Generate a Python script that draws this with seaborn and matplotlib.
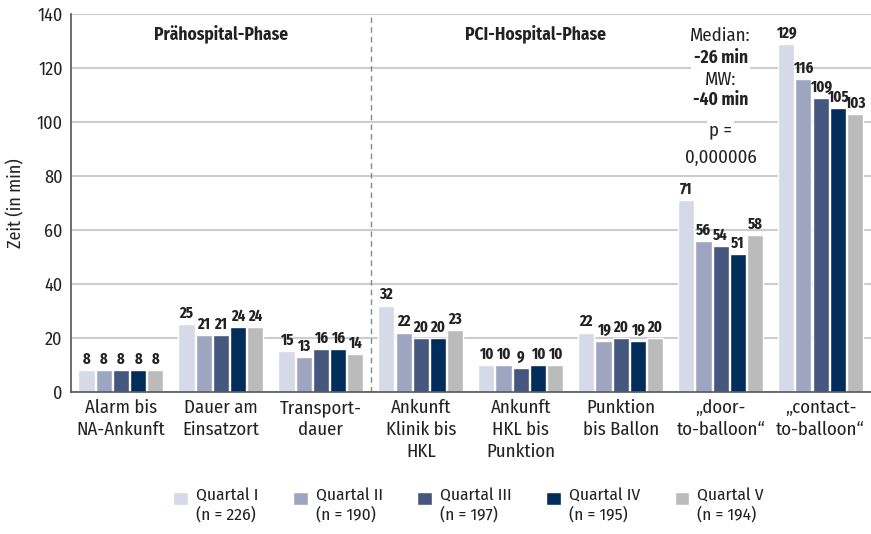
import matplotlib
matplotlib.use("Agg")
import matplotlib.pyplot as plt
import matplotlib.patches as mpatches
from matplotlib.legend_handler import HandlerPatch
import seaborn as sns
import pandas as pd
import numpy as np

categories = ["Alarm bis\nNA-Ankunft", "Dauer am\nEinsatzort", "Transport-\ndauer",
              "Ankunft\nKlinik bis\nHKL", "Ankunft\nHKL bis\nPunktion", "Punktion\nbis Ballon",
              "\u201edoor-\nto-balloon\u201c", "\u201econtact-\nto-balloon\u201c"]
series = ["Quartal I\n(n = 226)", "Quartal II\n(n = 190)", "Quartal III\n(n = 197)",
          "Quartal IV\n(n = 195)", "Quartal V\n(n = 194)"]
q1 = [8, 25, 15, 32, 10, 22, 71, 129]
q2 = [8, 21, 13, 22, 10, 19, 56, 116]
q3 = [8, 21, 16, 20, 9, 20, 54, 109]
q4 = [8, 24, 16, 20, 10, 19, 51, 105]
q5 = [8, 24, 14, 23, 10, 20, 58, 103]
colors = ["#d5d9e8", "#9ea5c0", "#45577e", "#002d5a", "#bbbbbb"]
yticks = [0, 20, 40, 60, 80, 100, 120, 140]

rows = []
for s, vals in zip(series, [q1, q2, q3, q4, q5]):
    for c, v in zip(categories, vals):
        rows.append({"Kategorie": c, "Quartal": s, "Zeit": v})
df = pd.DataFrame(rows)

sns.set_theme(style="white")
plt.rcParams["font.family"] = ["Fira Sans Condensed", "DejaVu Sans"]
TXT = "#222222"

fig = plt.figure(figsize=(8.71, 5.34), dpi=100)
ax = fig.add_axes([0.0815, 0.266, 0.918, 0.708])

sns.barplot(data=df, x="Kategorie", y="Zeit", hue="Quartal", palette=colors,
            order=categories, hue_order=series, width=0.86, gap=0.06,
            ax=ax, saturation=1, errorbar=None, legend=True)

for cont in ax.containers:
    ax.bar_label(cont, fmt="%d", padding=2, fontsize=11.5, fontweight="bold", color=TXT,
                 family=["Fira Sans Extra Condensed", "DejaVu Sans"])

ax.set_ylim(0, 140)
ax.set_xlim(-0.5, len(categories) - 0.5)
ax.set_yticks(yticks)
ax.yaxis.grid(True, color="#cdcdcd", linewidth=1.5)
ax.set_axisbelow(True)
ax.set_xlabel("")
ax.set_ylabel("Zeit (in min)", fontsize=13, color=TXT, labelpad=8)
ax.tick_params(axis="y", labelsize=13, colors=TXT, length=0, pad=6)
ax.tick_params(axis="x", labelsize=13.5, colors=TXT, length=0, pad=5)
for lbl in ax.get_xticklabels():
    lbl.set_linespacing(1.3)
ax.set_xticks(np.arange(len(categories) + 1) - 0.5, minor=True)
ax.tick_params(axis="x", which="minor", direction="in", length=6, color="#666666", width=1)
for sp in ["top", "right"]:
    ax.spines[sp].set_visible(False)
for sp in ["left", "bottom"]:
    ax.spines[sp].set_color("#555555")
    ax.spines[sp].set_linewidth(1.2)

ax.axvline(2.5, color="#888888", linestyle=(0, (4, 3)), linewidth=1)

ax.text(1.0, 132.5, "Prähospital-Phase", ha="center", va="center", fontsize=12.5, fontweight="bold", color=TXT)
ax.text(4.15, 132.5, "PCI-Hospital-Phase", ha="center", va="center", fontsize=12.5, fontweight="bold", color=TXT)

bb = dict(facecolor="white", edgecolor="none", pad=1.5)
ann = [("Median:", 131.9, "normal"), ("-26 min", 123.7, "bold"), ("MW:", 115.6, "normal"),
       ("-40 min", 108.1, "bold"), ("p =", 97.0, "normal"), ("0,000006", 86.7, "normal")]
for t, y, w in ann:
    ax.text(6.0, y, t, ha="center", va="center", fontsize=13.5 if w == "normal" else 12.5,
            fontweight=w, color=TXT, bbox=bb)

handles, labels = ax.get_legend_handles_labels()
ax.get_legend().remove()


def top_patch(legend, orig_handle, xdescent, ydescent, width, height, fontsize):
    return mpatches.Rectangle((-xdescent, -ydescent + 5.5), width, height)


hmap = {h: HandlerPatch(patch_func=top_patch) for h in handles}
fig.legend(handles, labels, loc="upper left", bbox_to_anchor=(0.181, 0.115), ncol=5,
           frameon=False, fontsize=12.5, handlelength=0.85, handleheight=0.85,
           handletextpad=0.45, columnspacing=2.0, labelcolor=TXT, handler_map=hmap)

fig.savefig("out.png", dpi=100)
